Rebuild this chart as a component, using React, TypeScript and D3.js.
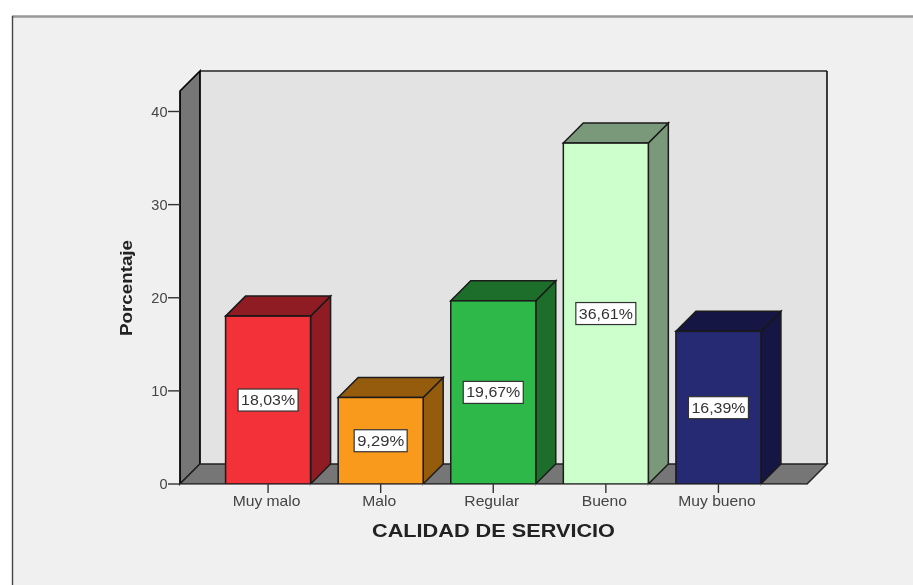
import React from "react";
import * as d3 from "d3";

const categories = ["Muy malo", "Malo", "Regular", "Bueno", "Muy bueno"];
const values = [18.03, 9.29, 19.67, 36.61, 16.39];
const valueLabels = ["18,03%", "9,29%", "19,67%", "36,61%", "16,39%"];
const frontColors = ["#f23038", "#fa9a1c", "#2db84a", "#ccffcc", "#262a73"];
const sideColors = ["#8f1d22", "#955c10", "#1b6e2c", "#7a997a", "#171944"];
const yTicks = [0, 10, 20, 30, 40];

const W = 913;
const H = 585;
const depth = 20;
const y = d3.scaleLinear().domain([0, 40]).range([484, 111.5]);
const x = d3.scaleBand<string>().domain(categories).range([211.5, 775]).paddingInner(0.245).paddingOuter(0.125);
const plotLeft = 180;
const plotRight = 807;
const plotTop = 91;
const stroke = "#1a1a1a";
const labelW = [60, 53, 60, 60, 60];

const pts = (p: number[][]) => p.map((a) => a.join(",")).join(" ");

export default function App() {
  const base = y(0);
  return (
    <svg width={W} height={H} style={{ position: "absolute", left: 0, top: 0 }} fontFamily="'Liberation Sans', Arial, sans-serif">
      <defs>
        <filter id="soft" x="-2%" y="-2%" width="104%" height="104%">
          <feGaussianBlur stdDeviation="0.7" />
        </filter>
      </defs>
      <rect x={0} y={0} width={W} height={H} fill="#ffffff" />
      <g filter="url(#soft)">
        <rect x={12} y={16} width={W} height={H} fill="#f0f0f0" />
        <line x1={12} x2={W} y1={16.5} y2={16.5} stroke="#999" strokeWidth={2.4} />
        <line x1={12.5} x2={12.5} y1={16} y2={H} stroke="#444" strokeWidth={1.4} />

        {/* back wall */}
        <rect x={plotLeft + depth} y={plotTop - depth} width={plotRight - plotLeft} height={base - plotTop} fill="#e3e3e3" />
        <line x1={plotLeft + depth} x2={plotRight + depth} y1={plotTop - depth} y2={plotTop - depth} stroke="#555" strokeWidth={1.8} />
        <line x1={plotRight + depth} x2={plotRight + depth} y1={plotTop - depth} y2={base - depth} stroke="#000" strokeWidth={1.5} />
        {/* left wall */}
        <polygon
          points={pts([[plotLeft, plotTop], [plotLeft + depth, plotTop - depth], [plotLeft + depth, base - depth], [plotLeft, base]])}
          fill="#767676"
          stroke="#000"
          strokeWidth={1.7}
        />
        {/* floor */}
        <polygon
          points={pts([[plotLeft, base], [plotLeft + depth, base - depth], [plotRight + depth, base - depth], [plotRight, base]])}
          fill="#767676"
          stroke="#222"
          strokeWidth={1.4}
        />

        {/* y axis */}
        {yTicks.map((t) => (
          <g key={t}>
            <line x1={168} x2={plotLeft} y1={y(t)} y2={y(t)} stroke="#333" strokeWidth={1.4} />
            <text x={167.5} y={y(t) + 5} textAnchor="end" fontSize={14.5} fill="#444">{t}</text>
          </g>
        ))}
        <text
          transform="translate(132,288) rotate(-90)"
          textAnchor="middle"
          fontSize={17}
          fontWeight="bold"
          fill="#222"
          textLength={96}
          lengthAdjust="spacingAndGlyphs"
        >Porcentaje</text>

        {/* bars */}
        {categories.map((c, i) => {
          const x0 = x(c)!;
          const x1 = x0 + x.bandwidth();
          const top = y(values[i]);
          return (
            <g key={c}>
              <polygon
                points={pts([[x1, base], [x1 + depth, base - depth], [x1 + depth, top - depth], [x1, top]])}
                fill={sideColors[i]}
                stroke={stroke}
                strokeWidth={1.5}
              />
              <polygon
                points={pts([[x0, top], [x0 + depth, top - depth], [x1 + depth, top - depth], [x1, top]])}
                fill={sideColors[i]}
                stroke={stroke}
                strokeWidth={1.5}
              />
              <rect x={x0} y={top} width={x.bandwidth()} height={base - top} fill={frontColors[i]} stroke={stroke} strokeWidth={1.5} />
            </g>
          );
        })}

        {/* value labels */}
        {categories.map((c, i) => {
          const cx = x(c)! + x.bandwidth() / 2;
          const cy = (y(values[i]) + base) / 2;
          const w = labelW[i];
          return (
            <g key={c}>
              <rect x={cx - w / 2} y={cy - 11} width={w} height={22} fill="#ffffff" stroke="#333" strokeWidth={1.2} />
              <text
                x={cx}
                y={cy + 5}
                textAnchor="middle"
                fontSize={14}
                fill="#333"
                textLength={w - 6}
                lengthAdjust="spacingAndGlyphs"
              >{valueLabels[i]}</text>
            </g>
          );
        })}

        {/* x axis */}
        <line x1={plotLeft} x2={plotRight} y1={base + 0.5} y2={base + 0.5} stroke="#777" strokeWidth={1.2} />
        {categories.map((c) => {
          const cx = x(c)! + x.bandwidth() / 2;
          return (
            <g key={c}>
              <line x1={cx} x2={cx} y1={base} y2={base + 9} stroke="#333" strokeWidth={1.4} />
              <text transform={`translate(${cx - 1.5},${base + 22}) scale(1.08,1)`} textAnchor="middle" fontSize={14.5} fill="#444">{c}</text>
            </g>
          );
        })}
        <text x={493.5} y={537} textAnchor="middle" fontSize={18} fontWeight="bold" fill="#222" textLength={243} lengthAdjust="spacingAndGlyphs">CALIDAD DE SERVICIO</text>
      </g>
    </svg>
  );
}
